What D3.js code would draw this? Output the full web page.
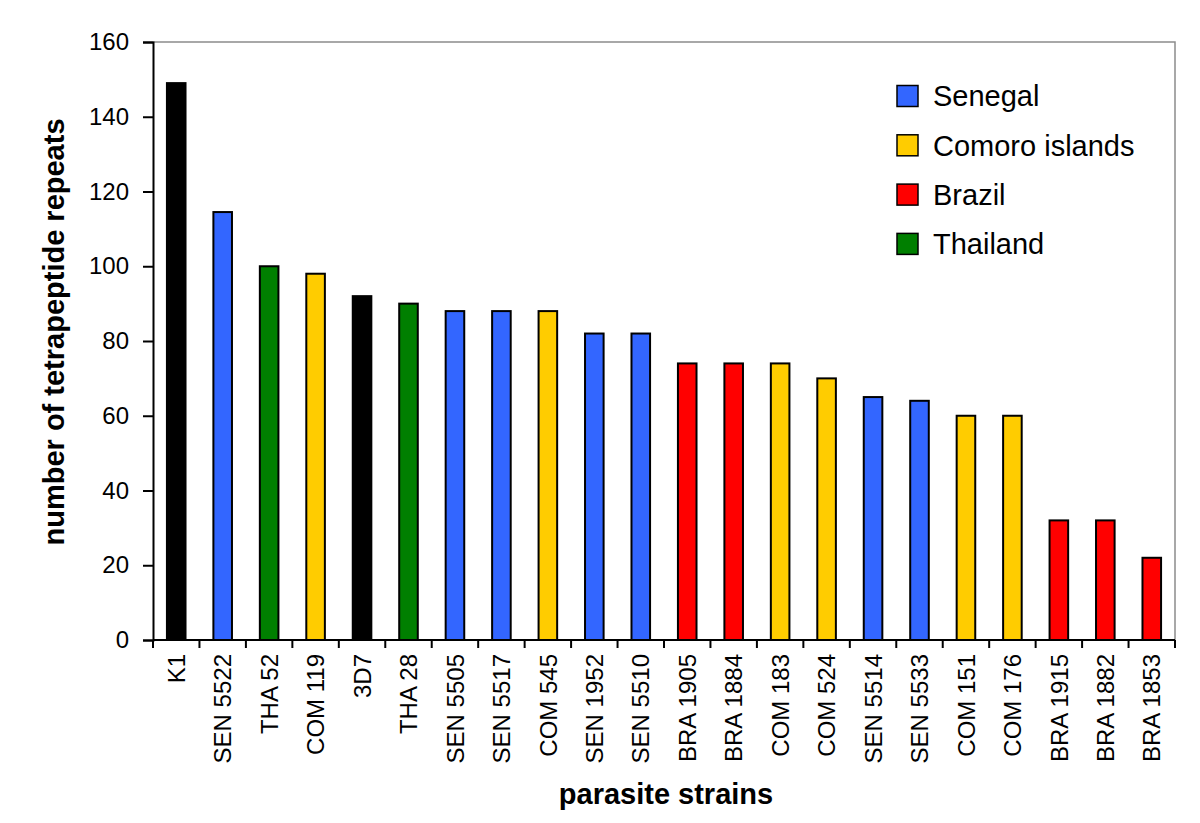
<!DOCTYPE html>
<html><head><meta charset="utf-8">
<script src="https://cdn.jsdelivr.net/npm/d3@7"></script>
<style>body{margin:0;background:#fff}svg{display:block}text{font-family:"Liberation Sans",Arial,sans-serif}</style>
</head><body><svg id="c" width="1200" height="823"></svg>
<script>
const strains = ["K1","SEN 5522","THA 52","COM 119","3D7","THA 28","SEN 5505","SEN 5517","COM 545","SEN 1952","SEN 5510","BRA 1905","BRA 1884","COM 183","COM 524","SEN 5514","SEN 5533","COM 151","COM 176","BRA 1915","BRA 1882","BRA 1853"];
const repeats = [149,114.5,100,98,92,90,88,88,88,82,82,74,74,74,70,65,64,60,60,32,32,22];
const origin = ["ref","Senegal","Thailand","Comoro islands","ref","Thailand","Senegal","Senegal","Comoro islands","Senegal","Senegal","Brazil","Brazil","Comoro islands","Comoro islands","Senegal","Senegal","Comoro islands","Comoro islands","Brazil","Brazil","Brazil"];
const legendGroups = ["Senegal","Comoro islands","Brazil","Thailand"];
const groupColors = ["#3366FF","#FFCC00","#FF0000","#007F00"];
const yTicks = [0,20,40,60,80,100,120,140,160];

const svg = d3.select("#c");
const L=153,R=1175,T=42,B=640;
const x = d3.scaleBand().domain(strains).range([L,R]).paddingInner(0.6).paddingOuter(0.3);
const y = d3.scaleLinear().domain([0,160]).range([B,T]);
const color = d3.scaleOrdinal().domain(legendGroups.concat(["ref"])).range(groupColors.concat(["#000000"]));

// frame top/right
svg.append("path").attr("d",`M${L},${T}H${R}V${B}`).attr("fill","none").attr("stroke","#8c8c8c").attr("stroke-width",1.5);

// bars
svg.selectAll("rect.bar").data(strains).enter().append("rect")
  .attr("x",d=>x(d)).attr("width",x.bandwidth())
  .attr("y",(d,i)=>y(repeats[i])).attr("height",(d,i)=>B-y(repeats[i]))
  .attr("fill",(d,i)=>color(origin[i])).attr("stroke","#000").attr("stroke-width",2);

// y axis
const ya = svg.append("g").attr("transform",`translate(${L},0)`)
  .call(d3.axisLeft(y).tickValues(yTicks).tickSize(10).tickPadding(14));
ya.select(".domain").attr("stroke","#000").attr("stroke-width",2);
ya.selectAll(".tick line").attr("stroke","#000").attr("stroke-width",2);
ya.selectAll(".tick text").attr("font-size",24).attr("fill","#000").style("font-family","Liberation Sans, Arial, sans-serif");

// x axis (ticks at band boundaries)
const xa = svg.append("g").attr("transform",`translate(0,${B})`);
xa.append("line").attr("x1",L).attr("x2",R).attr("stroke","#000").attr("stroke-width",2);
const step = x.step();
const bounds = d3.range(strains.length+1).map(i=>L+i*(R-L)/strains.length);
xa.selectAll("line.tk").data(bounds).enter().append("line")
  .attr("x1",d=>d).attr("x2",d=>d).attr("y1",0).attr("y2",8).attr("stroke","#000").attr("stroke-width",2);
xa.selectAll("text.lbl").data(strains).enter().append("text")
  .attr("transform",d=>`translate(${x(d)+x.bandwidth()/2},14) rotate(-90)`)
  .attr("text-anchor","end").attr("dy","0.36em").attr("font-size",24).attr("fill","#000").text(d=>d);

// axis titles
svg.append("text").attr("transform",`translate(64,332) rotate(-90)`).attr("text-anchor","middle")
  .attr("font-size",29).attr("font-weight","bold").text("number of tetrapeptide repeats");
svg.append("text").attr("x",666).attr("y",804).attr("text-anchor","middle")
  .attr("font-size",29).attr("font-weight","bold").text("parasite strains");

// legend
const lg = svg.append("g");
legendGroups.forEach((g,i)=>{
  const cy = 96 + i*49.3;
  lg.append("rect").attr("x",897).attr("y",cy-10.5).attr("width",21).attr("height",21)
    .attr("fill",groupColors[i]).attr("stroke","#000").attr("stroke-width",1.5);
  lg.append("text").attr("x",933).attr("y",cy).attr("dy","0.36em").attr("font-size",29).attr("fill","#000").text(g);
});
</script></body></html>
